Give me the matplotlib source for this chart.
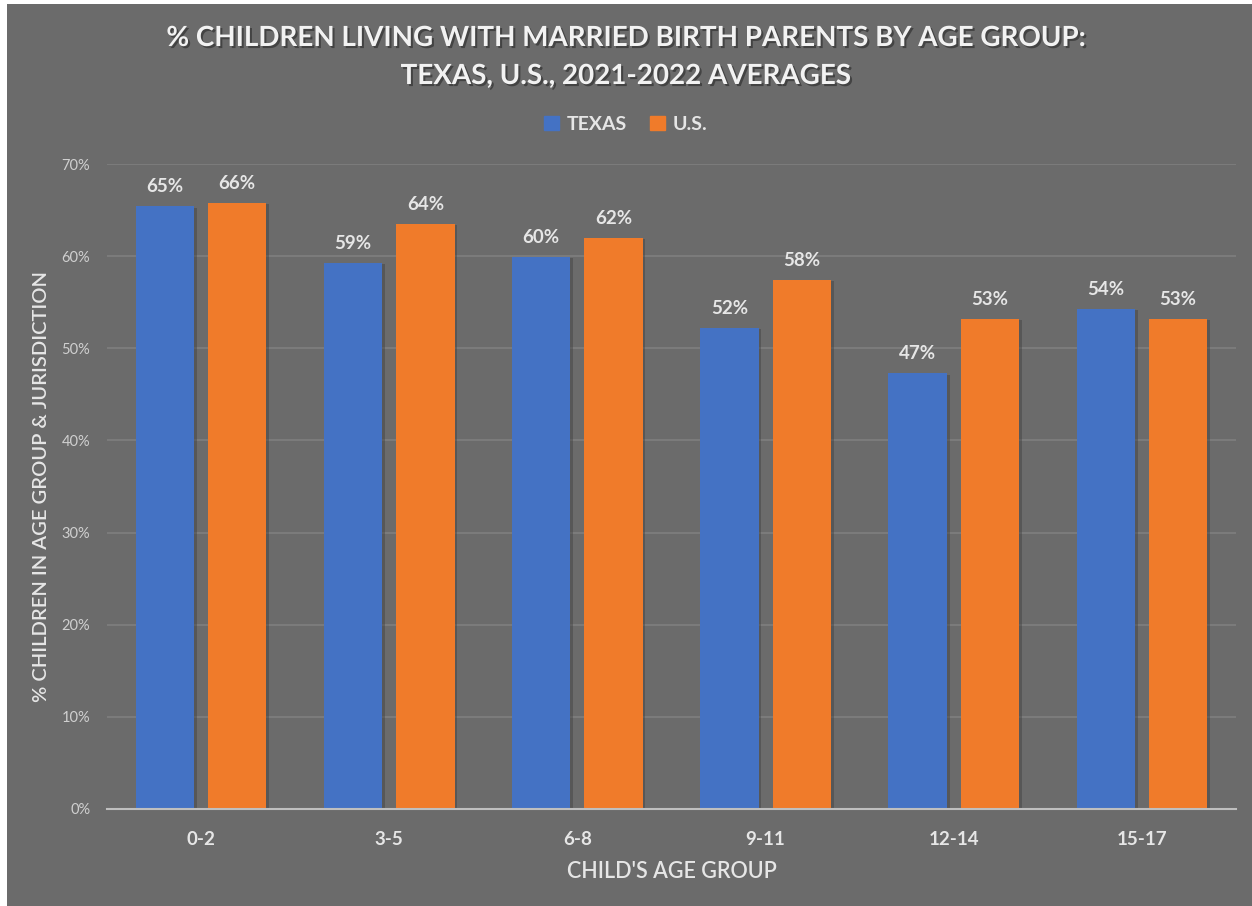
import matplotlib
matplotlib.use('Agg')
import numpy as np
from matplotlib import pyplot as plt
from matplotlib import patheffects as pe
from matplotlib.patches import Rectangle, Patch
from matplotlib.ticker import PercentFormatter

age_groups = ['0-2', '3-5', '6-8', '9-11', '12-14', '15-17']
texas = [65.4, 59.3, 59.9, 52.2, 47.3, 54.3]
us = [65.8, 63.5, 62.0, 57.4, 53.2, 53.2]
texas_labels = ['65%', '59%', '60%', '52%', '47%', '54%']
us_labels = ['66%', '64%', '62%', '58%', '53%', '53%']
yticks = [0, 10, 20, 30, 40, 50, 60, 70]

bg = '#6b6b6b'
txt = '#e6e6e6'
blue = '#4472c4'
orange = '#f07b2a'
plt.rcParams['font.family'] = ['Lato', 'DejaVu Sans']

fig = plt.figure(figsize=(12.52, 9.06), dpi=100, facecolor='white')
fig.patches.append(Rectangle((7/1252, 0), 1, 1 - 4/906, transform=fig.transFigure,
                             facecolor=bg, edgecolor='none', zorder=-10))
ax = fig.add_axes([107/1252, 1 - 809/906, (1236-107)/1252, (809-164)/906])
ax.set_zorder(2)
ax.set_facecolor(bg)

x = np.arange(len(age_groups))
w = 0.31
off = 0.192
shadow = [pe.SimplePatchShadow(offset=(2, -1), shadow_rgbFace='#404040', alpha=0.45), pe.Normal()]
b1 = ax.bar(x - off, texas, w, color=blue, zorder=3)
b2 = ax.bar(x + off, us, w, color=orange, zorder=3)
for b in list(b1) + list(b2):
    b.set_path_effects(shadow)

for xi, v, l in zip(x, texas, texas_labels):
    ax.text(xi - off, v + 1.2, l, ha='center', va='bottom', color=txt, fontsize=13.5, fontweight='bold')
for xi, v, l in zip(x, us, us_labels):
    ax.text(xi + off, v + 1.2, l, ha='center', va='bottom', color=txt, fontsize=13.5, fontweight='bold')

ax.set_xlim(-0.5, 5.5)
ax.set_ylim(0, 70)
ax.set_yticks(yticks)
ax.yaxis.set_major_formatter(PercentFormatter(decimals=0))
ax.set_xticks(x)
ax.set_xticklabels(age_groups, fontsize=13.5, fontweight='bold', color=txt)
ax.tick_params(axis='y', colors='#d0d0d0', labelsize=10.5, length=0, pad=12)
ax.tick_params(axis='x', length=0, pad=16)
ax.grid(axis='y', color='#7f7f7f', linewidth=1.2, zorder=0)
ax.set_axisbelow(True)
for s in ['top', 'right', 'left']:
    ax.spines[s].set_visible(False)
ax.spines['bottom'].set_color('#bfbfbf')
ax.spines['bottom'].set_linewidth(1.5)
ax.spines['bottom'].set_zorder(4)

ax.set_xlabel("CHILD'S AGE GROUP", fontsize=15.5, color=txt, labelpad=9, fontweight='semibold')
ax.set_ylabel('% CHILDREN IN AGE GROUP & JURISDICTION', fontsize=14.5, color=txt, labelpad=8,
              fontweight='semibold')

title_fx = [pe.withSimplePatchShadow(offset=(1.5, -1.5), shadow_rgbFace='#333333', alpha=0.7)]
fig.text(0.5, 1 - 38/906, '% CHILDREN LIVING WITH MARRIED BIRTH PARENTS BY AGE GROUP:',
         ha='center', va='center', fontsize=20, fontweight='bold', color='#f2f2f2', path_effects=title_fx)
fig.text(0.5, 1 - 76/906, 'TEXAS, U.S., 2021-2022 AVERAGES',
         ha='center', va='center', fontsize=20, fontweight='bold', color='#f2f2f2', path_effects=title_fx)

handles = [Patch(color=blue, label='TEXAS'), Patch(color=orange, label='U.S.')]
fig.legend(handles=handles, loc='center', bbox_to_anchor=(0.5, 1 - 124/906), ncol=2, frameon=False,
           labelcolor=txt, handlelength=0.75, handleheight=0.75, columnspacing=1.2,
           handletextpad=0.4, prop={'weight': 'bold', 'size': 14})

fig.savefig('out.png', dpi=100, facecolor=fig.get_facecolor())
